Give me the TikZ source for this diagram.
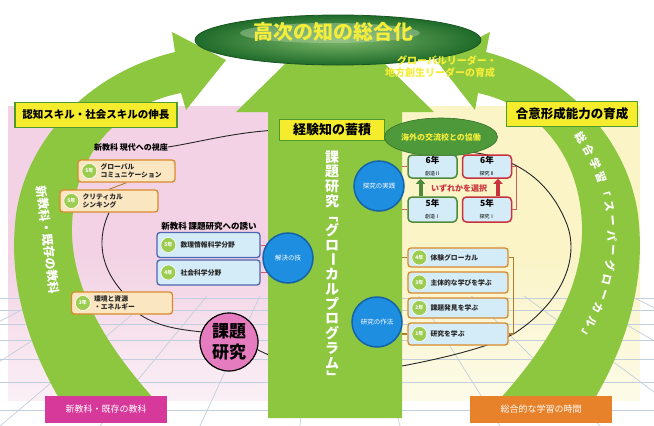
\documentclass[tikz,border=0pt]{standalone}
\usepackage{fontspec}
\setmainfont{Noto Sans CJK JP}
\usetikzlibrary{shapes.geometric,arrows.meta,calc}
\definecolor{arrG}{HTML}{8DC63F}
\definecolor{lblY}{HTML}{F5EC2E}
\definecolor{lblG}{HTML}{4E9A2C}
\definecolor{pinkbg}{HTML}{F2D2E4}
\definecolor{yelbg}{HTML}{FAF4C6}
\definecolor{ellD}{HTML}{1F6B2A}
\definecolor{ellL}{HTML}{7DB86A}
\definecolor{titY}{HTML}{F4EE3A}
\definecolor{exG}{HTML}{4E9A3A}
\definecolor{cirB}{HTML}{1E8EE0}
\definecolor{cirBD}{HTML}{1462A8}
\definecolor{boxBF}{HTML}{D4ECF8}
\definecolor{boxB}{HTML}{5066B0}
\definecolor{boxO}{HTML}{D88A2B}
\definecolor{boxOF}{HTML}{FBE6C2}
\definecolor{boxGr}{HTML}{4F8A3C}
\definecolor{boxR}{HTML}{C8323C}
\definecolor{badgeG}{HTML}{9CCC50}
\definecolor{kcP}{HTML}{E67CC0}
\definecolor{magB}{HTML}{D6399A}
\definecolor{oraB}{HTML}{E7822B}
\definecolor{gridC}{HTML}{C3CFDC}
\definecolor{brn}{HTML}{B07A30}
\newcommand{\fsz}[1]{\fontsize{#1pt}{\dimexpr #1pt*12/10\relax}\selectfont}
\pgfdeclarelayer{bg}\pgfdeclarelayer{ln}\pgfdeclarelayer{ar}
\pgfsetlayers{bg,ln,ar,main}
\begin{document}
\begin{tikzpicture}[x=1pt,y=-1pt,
 ybox/.style={draw=lblG, line width=1.6, fill=lblY, font=\bfseries\fsz{10.5}, text=black, inner sep=0},
 obox/.style={draw=boxO, line width=1.3, fill=boxOF, rounded corners=3, inner sep=0},
 bbox/.style={draw=boxB, line width=1.3, fill=boxBF, rounded corners=3, inner sep=0},
 lbox/.style={draw=boxO, line width=1.3, fill=boxBF, rounded corners=3, inner sep=0, minimum width=100},
 gbox/.style={draw=boxGr, line width=1.5, fill=boxBF, rounded corners=4, minimum width=49, minimum height=23, inner sep=0, align=center, text=black},
 rbox/.style={gbox, draw=boxR},
 badge/.style={circle, fill=badgeG, draw=white, line width=0.6, minimum size=15, inner sep=0, text=white, font=\bfseries\fsz{5}},
 btxt/.style={font=\bfseries\fsz{6.8}, text=black!85, align=left, inner sep=0, anchor=west},
 bcirc/.style={circle, fill=cirB, draw=cirBD, line width=1.5, minimum size=50, inner sep=0, text=white, font=\fsz{6.5}},
 smlbl/.style={font=\bfseries\fsz{8}, text=black, inner sep=0},
 loopln/.style={draw=black!85, line width=0.9},
 redl/.style={draw=boxR!80, line width=0.8},
 brl/.style={draw=brn, line width=1.2},
 gridl/.style={draw=gridC, line width=0.7},
 vch/.style={text=white, font=\bfseries\fsz{14}, inner sep=0},
 arcch/.style={text=white, font=\bfseries\fsz{12}, inner sep=0},
 fatup/.style={-{Triangle[length=5,width=9]}, line width=4}
]
\useasboundingbox (0,0) rectangle (654,426);

% ---------------- main nodes ----------------
\node[ellipse, minimum width=286, minimum height=50, shade, inner color=ellL, outer color=ellD, draw=ellD!80!black, line width=0.8] (top) at (338,40) {};
\node[ellipse, minimum width=180, minimum height=20, fill=ellL!60!white, opacity=0.45] (toph) at (330,33) {};
\node[font=\bfseries\fsz{20}, text=titY] (title) at (333,32) {高次の知の総合化};
\node[font=\bfseries\fsz{10}, text=titY] (sub1) at (447,61) {グローバルリーダー・};
\node[font=\bfseries\fsz{10}, text=titY] (sub2) at (440,73) {地方創生リーダーの育成};

\node[ybox, minimum width=162, minimum height=25] (lsk) at (96,115) {認知スキル・社会スキルの伸長};
\node[ybox, minimum width=105, minimum height=21, font=\bfseries\fsz{13}] (kj) at (332,130) {経験知の蓄積};
\node[ybox, minimum width=131, minimum height=25, font=\bfseries\fsz{12.5}] (gi) at (572,114) {合意形成能力の育成};
\node[ellipse, minimum width=112, minimum height=38, fill=exG, draw=exG!70!black, line width=0.6, text=titY, font=\bfseries\fsz{8}, inner sep=0] (ex) at (441,137) {海外の交流校との協働};

% left side
\node[smlbl] (lb1) at (131,147) {新教科 現代への視座};
\node[obox, minimum width=97, minimum height=22] (b1) at (126.5,171) {};
\node[badge] (g1) at ([xshift=12]b1.west) {5年};
\node[btxt] (t1) at ([xshift=23]b1.west) {グローバル\\コミュニケーション};
\node[obox, minimum width=98, minimum height=22] (b2) at (109,201) {};
\node[badge] (g2) at ([xshift=12]b2.west) {5年};
\node[btxt] (t2) at ([xshift=23]b2.west) {クリティカル\\シンキング};
\node[smlbl, font=\bfseries\fsz{8.5}] (lb2) at (209,226) {新教科 課題研究への誘い};
\node[bbox, minimum width=103, minimum height=25] (b3) at (208.5,245) {};
\node[badge] (g3) at ([xshift=12]b3.west) {5年};
\node[btxt] (t3) at ([xshift=24]b3.west) {数理情報科学分野};
\node[bbox, minimum width=103, minimum height=25] (b4) at (208.5,272.5) {};
\node[badge] (g4) at ([xshift=12]b4.west) {4年};
\node[btxt] (t4) at ([xshift=24]b4.west) {社会科学分野};
\node[obox, minimum width=101, minimum height=22] (b5) at (122,303) {};
\node[badge] (g5) at ([xshift=12]b5.west) {3年};
\node[btxt] (t5) at ([xshift=23]b5.west) {環境と資源\\・エネルギー};

\node[bcirc] (c2) at (288,258) {解決の技};
\node[circle, fill=kcP, draw=black, line width=1.2, minimum size=58, inner sep=0, align=center, font=\bfseries\fsz{17}, text=black] (kc) at (229,342) {課題\\研究};

% right side
\node[bcirc] (c1) at (379,186) {探究の実践};
\node[gbox] (s6) at (432.5,166.5) {{\bfseries\fsz{8.5}6年}\\{\fsz{5}創造Ⅱ}};
\node[rbox] (r6) at (487,166.5) {{\bfseries\fsz{8.5}6年}\\{\fsz{5}探究Ⅱ}};
\node[gbox, minimum height=25] (s5) at (432.5,209.5) {{\bfseries\fsz{8.5}5年}\\{\fsz{5}創造Ⅰ}};
\node[rbox, minimum height=25] (r5) at (487,209.5) {{\bfseries\fsz{8.5}5年}\\{\fsz{5}探究Ⅰ}};
\node[font=\bfseries\fsz{8}, text=boxR, inner sep=0] (sel) at (459,188.5) {いずれかを選択};
\draw[fatup, draw=boxGr] ([xshift=-12]s5.north) -- ([xshift=-12]s6.south);
\draw[fatup, draw=boxR] ([xshift=11]r5.north) -- ([xshift=11]r6.south);

\node[bcirc] (c3) at (377,322) {研究の作法};
\node[lbox, minimum height=19] (L1) at (458,257.5) {};
\node[badge] (h1) at ([xshift=12]L1.west) {4年};
\node[btxt] (u1) at ([xshift=23]L1.west) {体験グローカル};
\node[lbox, minimum height=21] (L2) at (458,282.5) {};
\node[badge] (h2) at ([xshift=12]L2.west) {3年};
\node[btxt] (u2) at ([xshift=23]L2.west) {主体的な学びを学ぶ};
\node[lbox, minimum height=20] (L3) at (458,308) {};
\node[badge] (h3) at ([xshift=12]L3.west) {2年};
\node[btxt] (u3) at ([xshift=23]L3.west) {課題発見を学ぶ};
\node[lbox, minimum height=22] (L4) at (458,334) {};
\node[badge] (h4) at ([xshift=12]L4.west) {1年};
\node[btxt] (u4) at ([xshift=23]L4.west) {研究を学ぶ};

% bottom boxes
\node[fill=magB, minimum width=122, minimum height=27, text=white, font=\fsz{9}, inner sep=0] (bl) at (106,409.5) {新教科・既存の教科};
\node[fill=oraB, minimum width=142, minimum height=27, text=white, font=\fsz{9}, inner sep=0] (br) at (541,409.5) {総合的な学習の時間};

% vertical text in central arrow
\foreach \ch/\rr [count=\i] in {課/0,題/0,研/0,究/0,「/-90,グ/0,ロ/0,ー/-90,カ/0,ル/0,プ/0,ロ/0,グ/0,ラ/0,ム/0,」/-90}{
  \node[vch, rotate=\rr] (vc\i) at (332,{157+(\i-1)*14.7}) {\ch};
}
% left arc text
\node[arcch, rotate=-83] (lat) at (48,240) {新教科・既存の教科};
% right arc text
\foreach \ch [count=\i] in {総,合,学,習,「,ス,ー,パ,ー,グ,ロ,ー,カ,ル,」}{
  \pgfmathsetmacro\th{-34+(\i-1)*4.75}
  \node[arcch, font=\bfseries\fsz{11}, rotate={-90-\th}] (rc\i) at ({432+180*cos(\th)},{238+180*sin(\th)}) {\ch};
}

% ---------------- background ----------------
\begin{pgfonlayer}{bg}
\fill[white] (0,0) rectangle (654,426);
\shade[top color=pinkbg, bottom color=pinkbg!35!white, middle color=pinkbg] (8,106) rectangle (336,400);
\shade[top color=yelbg, bottom color=yelbg!40!white, middle color=yelbg] (336,106) rectangle (640,400);
\begin{scope}
\clip (0,296) rectangle (654,426);
\foreach \yy in {298,310,324,340,359,382,410} \draw[gridl] (0,\yy) -- (654,\yy);
\foreach \xx in {-900,-800,...,1600} \draw[gridl] (327,150) -- (\xx,426);
\end{scope}
\end{pgfonlayer}

% ---------------- loop line & brackets ----------------
\begin{pgfonlayer}{ln}
\draw[loopln] (kj.west) .. controls (235,132) and (200,142) .. (lb1.east);
\draw[brl, line width=0.9] (b1.south) -- (b2.north);
\draw[loopln] (b2.south) .. controls (94,245) and (105,272) .. (b5.north);
\draw[loopln] ([xshift=18]b5.south) .. controls (160,328) and (185,330) .. (kc.160);
\draw[loopln] (kc.-15) .. controls (300,372) and (360,374) .. (402,366)
   .. controls (450,357) and (495,345) .. (515,333)
   .. controls (565,300) and (580,255) .. (566,222)
   .. controls (552,188) and (525,160) .. (ex.-25);
\draw[redl] (b3.east) -- (b3.east -| c2.center);
\draw[redl] (b4.east) -- (b4.east -| c2.center);
\draw[redl] (s6.west) -- (s6.west -| c1.center);
\draw[redl] (s5.west) -- (s5.west -| c1.center);
\draw[redl] (r6.east) -- ++(4,0) |- (r5.east);
\draw[brl] (L1.west) -| (c3.70);
\draw[brl] (L4.west) -- (L4.west -| c3.center);
\draw[brl] (L1.east) -- ++(5,0) |- (L4.east);
\end{pgfonlayer}

% ---------------- green arrows ----------------
\begin{pgfonlayer}{ar}
\fill[arrG] (60,400) .. controls (25,340) and (10,280) .. (15,225)
  .. controls (20,150) and (80,75) .. (175,52) -- (172,32) -- (226,60) -- (186,110) -- (181,93)
  .. controls (120,105) and (75,150) .. (72,225)
  .. controls (70,290) and (110,350) .. (155,400) -- cycle;
\fill[arrG] (594,400) .. controls (629,340) and (644,280) .. (639,225)
  .. controls (634,150) and (574,75) .. (486,52) -- (490,32) -- (436,60) -- (475,110) -- (478,93)
  .. controls (534,105) and (579,150) .. (582,225)
  .. controls (584,290) and (544,350) .. (499,400) -- cycle;
\fill[arrG] (268,418) -- (268,112) -- (236,112) -- (335,15) -- (434,112) -- (402,112) -- (402,418) -- cycle;
\end{pgfonlayer}
\end{tikzpicture}
\end{document}
